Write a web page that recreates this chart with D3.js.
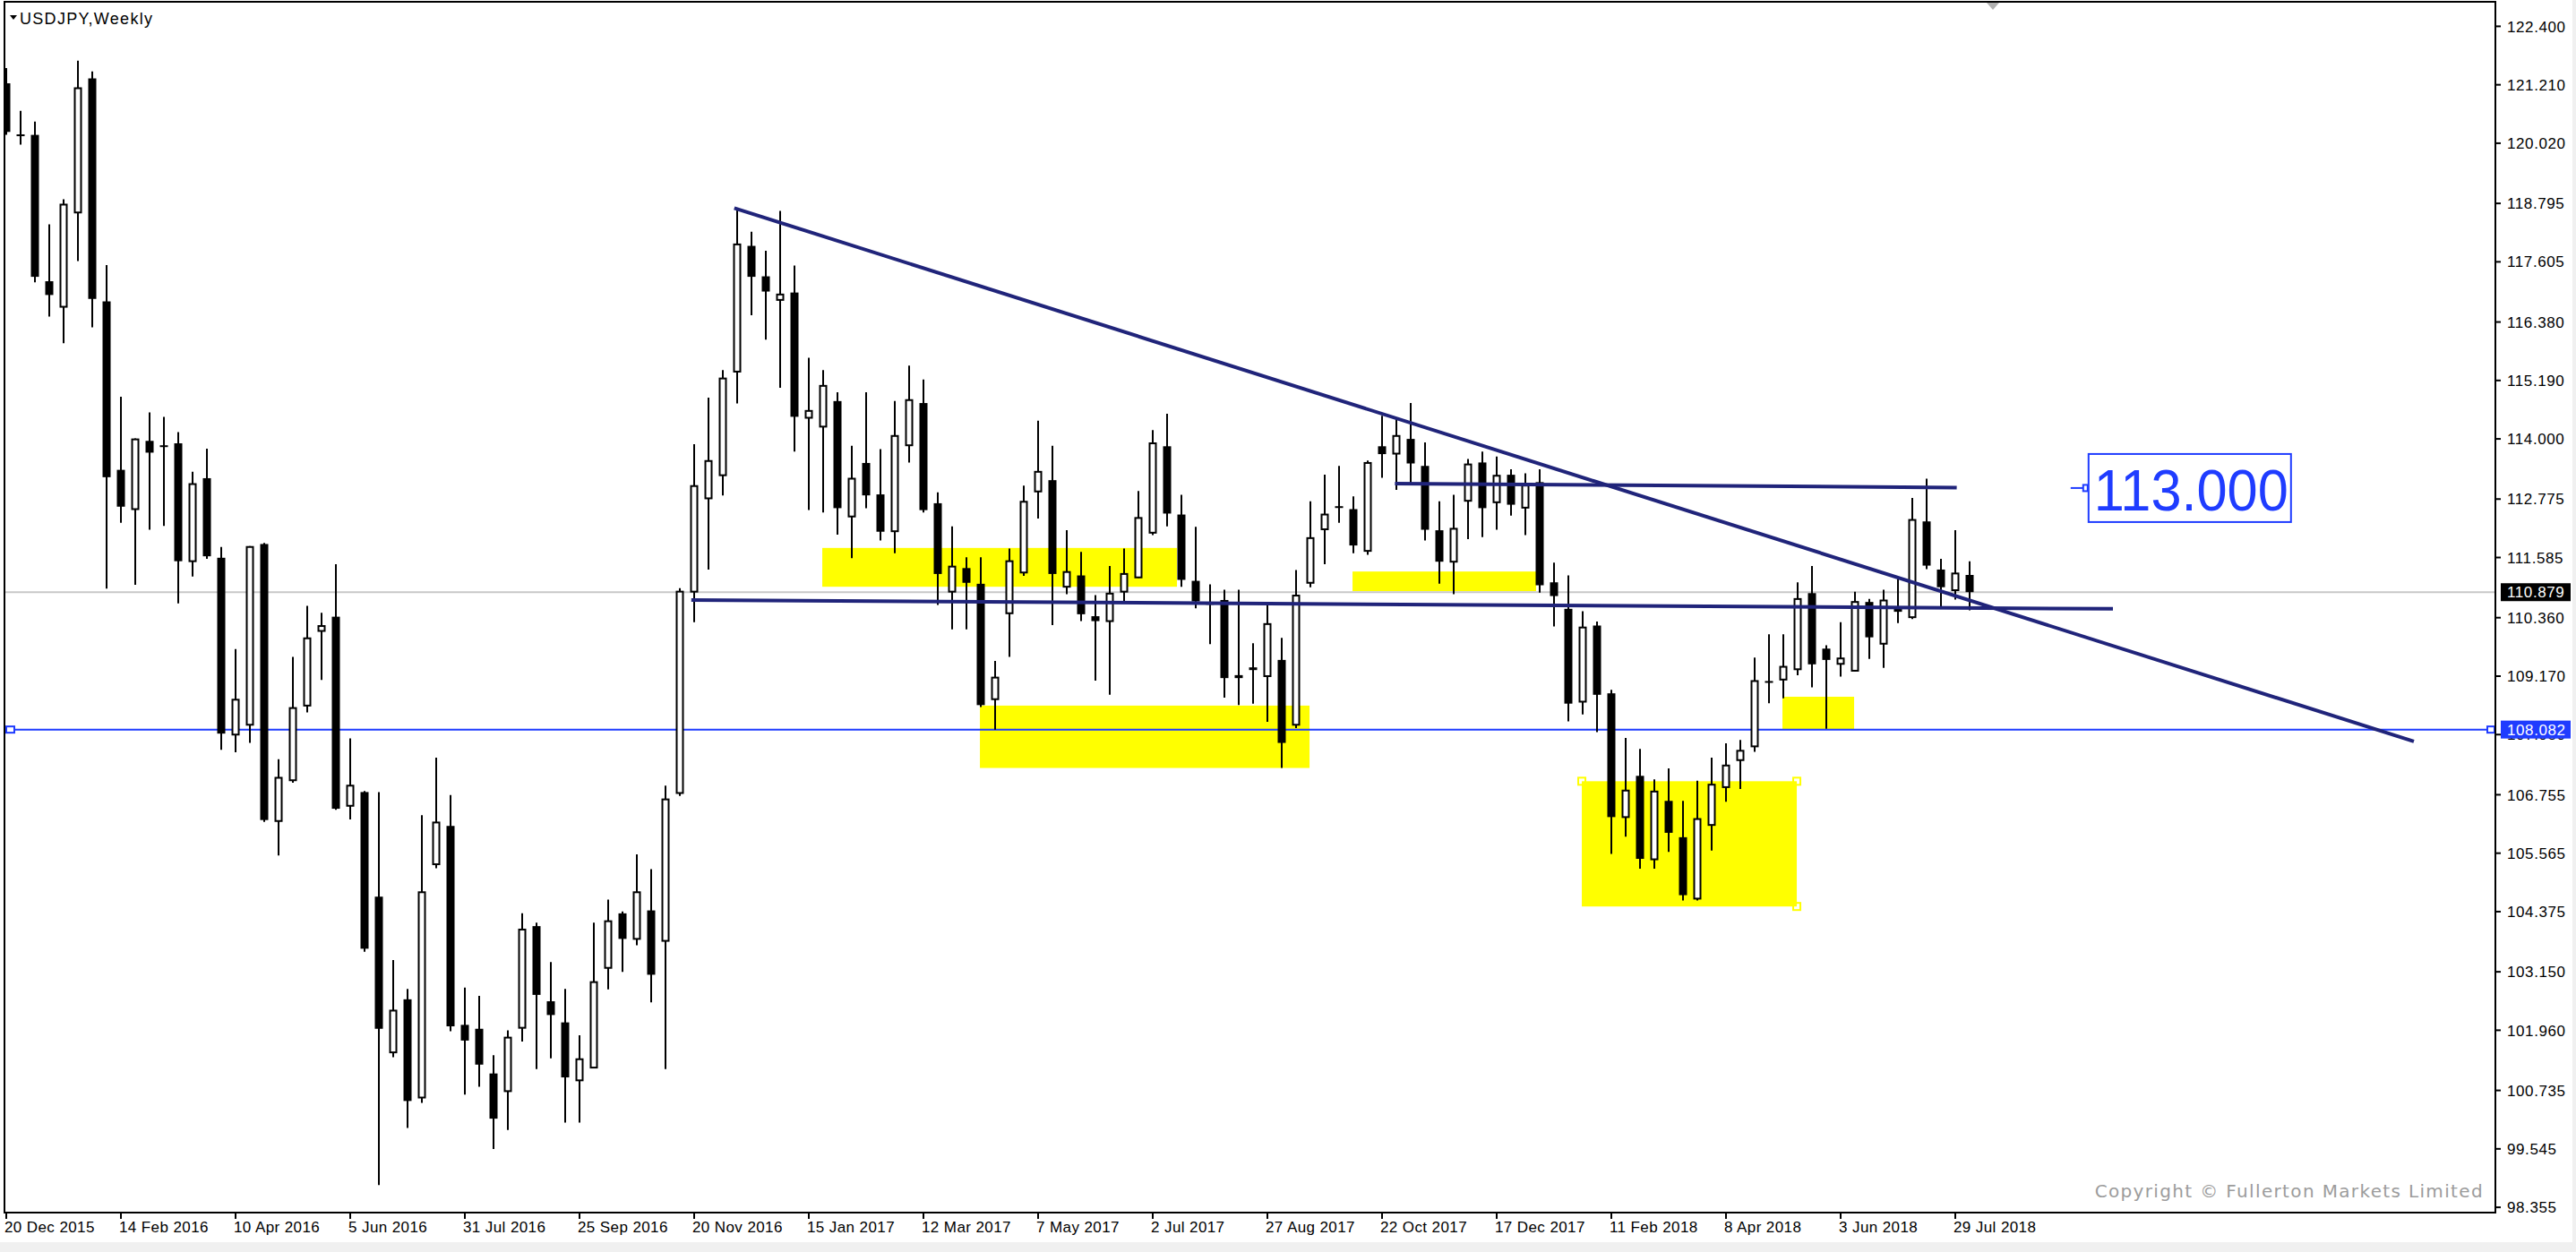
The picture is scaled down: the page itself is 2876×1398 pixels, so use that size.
<!DOCTYPE html>
<html><head><meta charset="utf-8">
<script src="https://cdn.jsdelivr.net/npm/d3@7"></script>
<style>
html,body{margin:0;padding:0;background:#fff;overflow:hidden;}
svg{display:block;}
</style></head><body>
<script>
// ---------------- DATA ----------------
const chartTitle = "USDJPY,Weekly";
const copyrightText = "Copyright \u00A9 Fullerton Markets Limited";
// weekly candles, index 0 = week of 20 Dec 2015
const opens = [121.24,120.20,120.19,117.21,116.69,118.61,121.34,116.80,113.37,112.57,
113.96,113.87,113.91,111.51,113.20,111.58,107.98,108.18,111.86,106.22,
107.05,108.57,110.09,110.38,106.53,106.81,104.68,101.51,102.59,100.59,
105.34,106.12,102.07,101.99,101.08,100.72,102.01,104.08,102.55,102.12,
100.94,101.20,103.23,104.34,103.82,104.40,103.78,106.79,110.89,112.79,
113.26,115.37,117.93,117.31,116.83,116.98,114.43,114.25,114.77,112.42,
113.51,112.87,112.12,113.87,114.73,112.69,110.89,111.37,111.05,108.70,
110.45,111.28,112.93,113.16,110.99,111.22,110.39,110.29,110.89,111.18,
112.09,113.85,112.46,111.11,110.66,110.72,109.19,109.32,109.17,109.50,
108.18,111.07,112.16,112.63,112.57,111.72,113.85,113.70,114.00,113.45,
112.14,111.50,112.74,113.52,112.71,113.27,112.60,113.12,111.08,110.54,
108.65,110.20,108.82,106.30,107.14,105.44,106.63,105.89,104.64,106.14,
106.91,107.46,107.74,109.07,109.10,109.31,110.86,109.73,109.42,109.28,
110.68,109.83,110.57,110.37,112.32,111.34,110.92,111.23];
const highs = [121.55,120.68,120.46,118.37,118.88,121.70,121.48,117.54,114.86,114.01,
114.54,114.45,114.14,113.33,113.80,111.80,109.72,111.82,111.88,107.48,
109.56,110.60,110.46,111.45,107.90,106.83,106.81,103.39,102.80,106.34,
107.51,106.75,102.83,102.66,101.45,101.96,104.34,104.15,103.35,102.80,
101.86,104.15,104.62,104.38,105.54,105.24,106.94,110.96,113.89,114.84,
115.40,118.67,118.22,117.83,118.64,117.53,115.65,115.40,114.95,113.86,
114.95,113.79,114.77,115.49,115.21,112.91,112.22,111.59,111.59,109.48,
111.77,113.05,114.37,113.86,112.14,111.70,110.82,111.41,111.77,112.94,
114.18,114.51,112.86,112.21,111.04,110.93,110.93,109.84,110.68,109.95,
111.33,112.73,113.27,113.45,112.83,113.56,114.47,114.43,114.73,113.93,
112.73,112.86,113.59,113.74,113.64,113.38,113.30,113.38,111.48,111.22,
110.49,110.28,108.89,107.91,107.69,107.07,107.29,106.63,107.04,107.51,
107.80,107.87,109.55,110.02,110.02,111.08,111.41,109.80,110.27,110.89,
110.74,110.93,111.15,112.80,113.19,111.56,112.14,111.51];
const lows = [120.19,119.99,117.19,116.49,115.95,117.62,116.27,110.95,112.29,111.03,
112.15,112.23,110.65,111.20,111.56,107.67,107.62,107.81,106.20,105.52,
107.00,108.43,109.09,106.45,106.25,103.56,98.81,101.41,99.97,100.48,
105.26,101.94,100.65,100.81,99.54,99.93,101.73,101.17,101.39,100.08,
100.08,101.19,102.79,103.15,103.69,102.53,101.17,106.73,110.27,111.34,
112.85,114.72,116.52,116.02,115.04,113.74,112.55,112.50,112.05,111.57,
112.59,111.93,111.67,113.52,112.50,110.62,110.12,110.12,108.54,108.08,
109.56,111.21,112.38,110.21,110.84,110.29,109.08,108.79,110.69,111.17,
112.04,112.22,110.99,110.55,109.82,108.73,108.58,108.61,108.24,107.30,
108.11,110.98,111.45,112.29,111.67,111.64,113.21,112.96,113.06,111.93,
111.05,110.84,111.96,112.00,112.15,112.44,112.04,110.87,110.18,108.25,
108.39,108.03,105.55,105.90,105.25,105.25,105.59,104.60,104.60,105.62,
106.61,106.87,107.63,108.62,108.72,109.19,108.94,108.10,109.16,109.27,
109.52,109.34,110.25,110.33,111.35,110.57,110.73,110.51];
const closes = [120.25,120.19,117.30,116.93,118.77,121.14,116.85,113.22,112.62,113.99,
113.72,113.85,111.51,113.08,111.61,108.00,108.69,111.80,106.24,107.10,
108.52,109.94,110.19,106.47,106.94,103.62,101.99,102.36,100.52,104.77,
106.19,102.04,101.75,101.26,100.16,101.81,104.01,102.68,102.27,101.00,
101.37,102.94,104.18,103.82,104.77,103.09,106.66,110.89,113.04,113.55,
115.23,117.96,117.30,117.00,116.94,114.45,114.57,115.08,112.59,113.19,
112.85,112.11,114.06,114.79,112.55,111.25,111.40,111.07,108.58,109.14,
111.51,112.72,113.33,111.25,111.29,110.43,110.29,110.85,111.25,112.39,
113.91,112.48,111.13,110.69,110.64,109.13,109.13,109.33,110.23,107.81,
110.81,111.98,112.46,112.62,111.83,113.51,113.69,114.06,113.50,112.15,
111.50,112.17,113.48,112.59,113.25,112.66,113.05,111.02,110.80,108.61,
110.16,108.79,106.30,106.84,105.45,106.82,105.98,104.71,106.26,106.96,
107.35,107.65,109.07,109.06,109.36,110.74,109.41,109.50,109.53,110.68,
109.96,110.71,110.48,112.35,111.42,110.98,111.26,110.88];

const dateTickIndex = [0,8,16,24,32,40,48,56,64,72,80,88,96,104,112,120,128,136];
const dateTickLabels = ["20 Dec 2015","14 Feb 2016","10 Apr 2016","5 Jun 2016","31 Jul 2016",
"25 Sep 2016","20 Nov 2016","15 Jan 2017","12 Mar 2017","7 May 2017","2 Jul 2017",
"27 Aug 2017","22 Oct 2017","17 Dec 2017","11 Feb 2018","8 Apr 2018","3 Jun 2018","29 Jul 2018"];
const priceTickLabels = ["122.400","121.210","120.020","118.795","117.605","116.380","115.190",
"114.000","112.775","111.585","110.360","109.170","107.980","106.755","105.565","104.375",
"103.150","101.960","100.735","99.545","98.355"];

const currentPrice = 110.879;
const blueLinePrice = 108.082;
// drawn objects, in (bar index, price)
const trendLine = [[50.8,118.70],[168.0,107.84]];
const supportLine = [[47.8,110.72],[147.0,110.54]];
const resistLine = [[96.9,113.09],[136.1,113.01]];
const zoneStart = [56.94,67.94,93.94,109.94,123.94];
const zoneEnd   = [81.69,90.94,106.75,124.94,128.94];
const zoneTop   = [111.78,108.57,111.30,107.03,108.75];
const zoneBottom= [110.99,107.30,110.90,104.48,108.09];
const noteText = "113.000";
const notePoint = [145.3,113.0];

// ---------------- LAYOUT ----------------
const W = 2876, H = 1398;
const L = 5, R = 2786, T = 2, B = 1354;
const x = d3.scaleLinear().domain([-0.125, 173.6875]).range([L, R]);
const y = d3.scaleLinear().domain([98.355, 122.4]).range([1348.1, 29.4]);

const svg = d3.select("body").append("svg").attr("width", W).attr("height", H);
svg.append("rect").attr("width", W).attr("height", H).attr("fill", "#ffffff");
svg.append("rect").attr("x",0).attr("y",1387).attr("width",W).attr("height",11).attr("fill","#f0f0f0");
svg.append("rect").attr("x",2872).attr("y",0).attr("width",4).attr("height",H).attr("fill","#f0f0f0");

svg.append("defs").append("clipPath").attr("id","plot")
  .append("rect").attr("x",L).attr("y",T).attr("width",R-L).attr("height",B-T);
const plot = svg.append("g").attr("clip-path","url(#plot)");

// zones
const zones = d3.range(zoneStart.length).map(k => ({s:zoneStart[k], e:zoneEnd[k], t:zoneTop[k], b:zoneBottom[k]}));
plot.selectAll("rect.zone").data(zones).join("rect").attr("class","zone")
  .attr("x", d => x(d.s)).attr("width", d => x(d.e) - x(d.s))
  .attr("y", d => y(d.t)).attr("height", d => y(d.b) - y(d.t))
  .attr("fill", "#ffff00");

// current price line (silver)
plot.append("line").attr("x1",L).attr("x2",R).attr("y1",y(currentPrice)).attr("y2",y(currentPrice))
  .attr("stroke","#c8c8c8").attr("stroke-width",2);
// blue horizontal line
plot.append("line").attr("x1",L).attr("x2",R).attr("y1",y(blueLinePrice)).attr("y2",y(blueLinePrice))
  .attr("stroke","#1f3cff").attr("stroke-width",2);
plot.append("rect").attr("x",L+2).attr("y",y(blueLinePrice)-3.5).attr("width",9).attr("height",7)
  .attr("fill","#fff").attr("stroke","#1f3cff").attr("stroke-width",2);
plot.append("rect").attr("x",R-9).attr("y",y(blueLinePrice)-3.5).attr("width",8).attr("height",7)
  .attr("fill","#fff").attr("stroke","#1f3cff").attr("stroke-width",2);

// candles
const candles = opens.map((o,i) => ({i, o, h:highs[i], l:lows[i], c:closes[i]}));
const cg = plot.append("g");
cg.selectAll("line.wick").data(candles).join("line").attr("class","wick")
  .attr("x1", d => Math.round(x(d.i))).attr("x2", d => Math.round(x(d.i)))
  .attr("y1", d => y(d.h)).attr("y2", d => y(d.l))
  .attr("stroke","#000").attr("stroke-width",2);
cg.selectAll("rect.body").data(candles).join("rect").attr("class","body")
  .attr("x", d => Math.round(x(d.i)) - (d.c >= d.o ? 3.5 : 4.5))
  .attr("width", d => d.c >= d.o ? 7 : 9)
  .attr("y", d => y(Math.max(d.o,d.c)))
  .attr("height", d => Math.max(d.c >= d.o ? 1 : 2, Math.abs(y(d.o) - y(d.c))))
  .attr("fill", d => d.c >= d.o ? "#ffffff" : "#000000")
  .attr("stroke", d => d.c >= d.o ? "#000" : "none")
  .attr("stroke-width", 2);

// navy drawn lines
const navy = "#20247a";
[trendLine, supportLine, resistLine].forEach(ln => {
  plot.append("line")
    .attr("x1", x(ln[0][0])).attr("y1", y(ln[0][1]))
    .attr("x2", x(ln[1][0])).attr("y2", y(ln[1][1]))
    .attr("stroke", navy).attr("stroke-width", 4);
});

// zone selection handles on the large zone
const zD = zones[3];
[[zD.s, zD.t],[zD.e, zD.t],[zD.e, zD.b]].forEach(p => {
  plot.append("rect").attr("x", x(p[0]) - 4).attr("y", y(p[1]) - 4).attr("width", 8).attr("height", 8)
    .attr("fill","none").attr("stroke","#ffff00").attr("stroke-width",2);
});

// text note 113.000
const nx = x(notePoint[0]), ny = y(notePoint[1]);
plot.append("line").attr("x1", nx - 20).attr("x2", nx - 6).attr("y1", ny).attr("y2", ny)
  .attr("stroke","#1f3cff").attr("stroke-width",2);
plot.append("rect").attr("x", nx - 6).attr("y", ny - 3.5).attr("width", 5).attr("height", 7)
  .attr("fill","#fff").attr("stroke","#1f3cff").attr("stroke-width",2);
plot.append("rect").attr("x", nx).attr("y", ny - 38).attr("width", 226).attr("height", 76)
  .attr("fill","none").attr("stroke","#1f3cff").attr("stroke-width",2);
plot.append("text").attr("x", nx + 6).attr("y", ny + 25)
  .attr("font-family","'Liberation Sans', Arial, sans-serif").attr("font-size",64)
  .attr("textLength", 217).attr("lengthAdjust","spacingAndGlyphs")
  .attr("fill","#1f3cff").text(noteText);

// chart shift marker
svg.append("path").attr("d", "M2218,3 L2232,3 L2225,11 Z").attr("fill","#b0b0b0");

// frame
svg.append("rect").attr("x",L).attr("y",T).attr("width",R-L).attr("height",B-T)
  .attr("fill","none").attr("stroke","#000").attr("stroke-width",2);

// right axis
const ax = svg.append("g");
ax.selectAll("line.pt").data(priceTickLabels).join("line").attr("class","pt")
  .attr("x1",R).attr("x2",R+6).attr("y1", d => y(+d)).attr("y2", d => y(+d))
  .attr("stroke","#000").attr("stroke-width",2);
ax.selectAll("text.pt").data(priceTickLabels).join("text").attr("class","pt")
  .attr("x", R + 13).attr("y", d => y(+d)).attr("dy","0.36em")
  .attr("font-family","'Liberation Sans', Arial, sans-serif").attr("font-size",17)
  .attr("letter-spacing","0.6").attr("fill","#000").text(d => d);

function priceBox(p, bg) {
  const g = svg.append("g");
  g.append("rect").attr("x", R + 6).attr("y", y(p) - 10).attr("width", 78).attr("height", 20).attr("fill", bg);
  g.append("text").attr("x", R + 13).attr("y", y(p)).attr("dy","0.36em")
    .attr("font-family","'Liberation Sans', Arial, sans-serif").attr("font-size",17)
    .attr("letter-spacing","0.6").attr("fill","#fff").text(p.toFixed(3));
}
priceBox(currentPrice, "#000000");
priceBox(blueLinePrice, "#1f3cff");

// bottom axis
ax.selectAll("line.dt").data(dateTickIndex).join("line").attr("class","dt")
  .attr("x1", d => Math.round(x(d))).attr("x2", d => Math.round(x(d)))
  .attr("y1", B).attr("y2", B + 7).attr("stroke","#000").attr("stroke-width",2);
ax.selectAll("text.dt").data(dateTickIndex).join("text").attr("class","dt")
  .attr("x", d => x(d) - 2).attr("y", B + 22)
  .attr("font-family","'Liberation Sans', Arial, sans-serif").attr("font-size",17)
  .attr("letter-spacing","0.4").attr("fill","#000").text((d,k) => dateTickLabels[k]);

// title
svg.append("path").attr("d","M11,17 L19,17 L15,22 Z").attr("fill","#000");
svg.append("text").attr("x",22).attr("y",27)
  .attr("font-family","'Liberation Sans', Arial, sans-serif").attr("font-size",18)
  .attr("letter-spacing","1.3").attr("fill","#000").text(chartTitle);

// copyright
svg.append("text").attr("x", 2773).attr("y", 1337).attr("text-anchor","end")
  .attr("font-family","'DejaVu Sans', sans-serif").attr("font-size",20)
  .attr("letter-spacing","1.35").attr("fill","#9c9c9c").text(copyrightText);
</script>
</body></html>
